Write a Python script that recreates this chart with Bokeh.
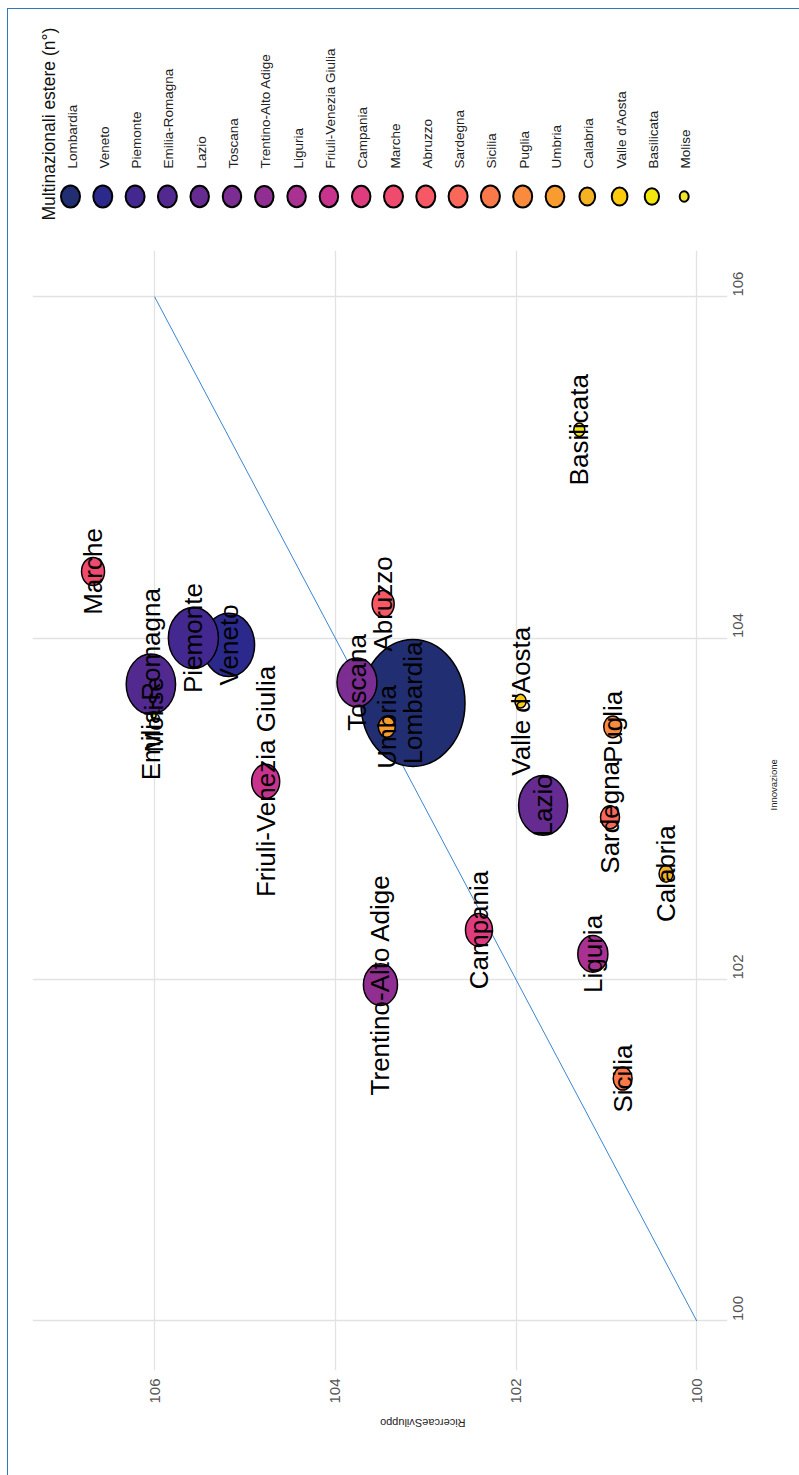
import math
from bokeh.plotting import figure
from bokeh.models import Range1d, FixedTicker, ColumnDataSource
from bokeh.layouts import column
from bokeh.core.properties import value
from bokeh.embed import file_html
from bokeh.resources import INLINE

# ---------------- data ----------------
regioni = ["Lombardia", "Veneto", "Piemonte", "Emilia-Romagna", "Lazio", "Toscana",
           "Trentino-Alto Adige", "Liguria", "Friuli-Venezia Giulia", "Campania", "Marche",
           "Abruzzo", "Sardegna", "Sicilia", "Puglia", "Umbria", "Calabria",
           "Valle d'Aosta", "Basilicata", "Molise"]
ricerca_sviluppo = [103.14, 105.18, 105.57, 106.04, 101.70, 103.76,
                    103.50, 101.15, 104.77, 102.41, 106.68,
                    103.47, 100.96, 100.82, 100.93, 103.43, 100.34,
                    101.95, 101.30, 106.01]
innovazione = [103.62, 103.96, 104.00, 103.73, 103.02, 103.74,
               101.97, 102.15, 103.16, 102.29, 104.39,
               104.20, 102.95, 101.42, 103.48, 103.48, 102.62,
               103.63, 105.22, 103.55]
multinazionali = [5000, 1140, 1050, 1020, 1005, 640,
                  450, 340, 290, 265, 185,
                  167, 120, 118, 105, 93, 61,
                  40, 38, 20]
ticks = [100, 102, 104, 106]
bisettrice = [100, 106]

# ---------------- styles ----------------
colori = ["#212f72", "#2b2a8c", "#42288f", "#51298f", "#652b90", "#7b2d91",
          "#902f91", "#a93191", "#c8338d", "#df3c80", "#ef4b6f",
          "#f65865", "#f96858", "#fa794a", "#fa8a3d", "#f89c30", "#f5b323",
          "#fccb10", "#f4e60c", "#f2e629"]
legend_key_w = [19, 19, 19, 19, 18.5, 18.5, 18.5, 18.5, 18.5, 18.5, 19,
                19, 19, 19, 19, 18.7, 15.7, 15.7, 14.3, 9]
D_MIN, D_MAX, STRETCH = 5.0, 104.0, 1.22
FONT = "Liberation Sans"

nmin, nmax = min(multinazionali), max(multinazionali)
diam = [D_MIN + (D_MAX - D_MIN) * math.sqrt((n - nmin) / (nmax - nmin)) for n in multinazionali]

W = 791
LEG_H = 241
MAIN_H = 1466 - LEG_H
BL, BR = 24, 72          # left/right borders -> frame spans x 24..719

# ---------------- legend figure ----------------
lg = figure(width=W, height=LEG_H, x_range=Range1d(BL, W - BR), y_range=Range1d(LEG_H, 0),
            toolbar_location=None, output_backend="svg",
            min_border_left=BL, min_border_right=BR, min_border_top=0, min_border_bottom=0)
lg.axis.visible = False
lg.grid.visible = False
lg.outline_line_color = None
lg.background_fill_color = "white"

lx = [62 + 32.3 * i for i in range(len(regioni))]
lsrc = ColumnDataSource(dict(x=lx, y=[187] * len(regioni), w=legend_key_w,
                             h=[w * 1.15 for w in legend_key_w], c=colori, t=regioni,
                             tx=[v + 1.5 for v in lx], ty=[159] * len(regioni)))
lg.ellipse(x="x", y="y", width="w", height="h", width_units="screen", height_units="screen",
           fill_color="c", line_color="black", line_width=2, source=lsrc)
lg.text(x="tx", y="ty", text="t", angle=math.pi / 2, text_align="left", text_baseline="middle",
        text_font=value(FONT), text_font_size="13.5px", text_color="#222222", source=lsrc)
lg.text(x=[40], y=[211], text=["Multinazionali estere (n°)"], angle=math.pi / 2,
        text_align="left", text_baseline="middle", text_font=value(FONT),
        text_font_size="17.5px", text_color="#111111")

# ---------------- main figure ----------------
p = figure(width=W, height=MAIN_H, x_range=Range1d(107.35, 99.66), y_range=Range1d(99.71, 106.27),
           toolbar_location=None, output_backend="svg", y_axis_location="right",
           min_border_left=BL, min_border_right=BR, min_border_top=0, min_border_bottom=105,
           x_axis_label="RicercaeSviluppo", y_axis_label="Innovazione")
p.outline_line_color = None
p.background_fill_color = "white"

for ax in (p.xaxis[0], p.yaxis[0]):
    ax.ticker = FixedTicker(ticks=ticks)
    ax.axis_line_color = None
    ax.major_tick_line_color = None
    ax.minor_tick_line_color = None
    ax.major_label_orientation = math.pi / 2
    ax.major_label_text_font = FONT
    ax.major_label_text_font_size = "15px"
    ax.major_label_text_color = "#555555"
    ax.axis_label_text_font = FONT
    ax.axis_label_text_font_style = "normal"
    ax.axis_label_text_color = "#222222"
p.xaxis[0].major_label_standoff = 2
p.yaxis[0].major_label_standoff = 5
p.xaxis[0].axis_label_text_font_size = "11px"
p.yaxis[0].axis_label_text_font_size = "9.5px"
p.xaxis[0].axis_label_standoff = 16
p.yaxis[0].axis_label_standoff = 22
try:
    p.xaxis[0].axis_label_orientation = math.pi
    p.yaxis[0].axis_label_orientation = math.pi / 2
except Exception:
    pass

for g in (p.xgrid[0], p.ygrid[0]):
    g.ticker = FixedTicker(ticks=ticks)
    g.grid_line_color = "#e2e2e2"
    g.grid_line_width = 1.3
    g.minor_grid_line_color = None

p.line(x=bisettrice, y=bisettrice, line_color="#3a86d1", line_width=1)

src = ColumnDataSource(dict(x=ricerca_sviluppo, y=innovazione, d=diam,
                            h=[d * STRETCH for d in diam], c=colori, t=regioni))
p.ellipse(x="x", y="y", width="d", height="h", width_units="screen", height_units="screen",
          fill_color="c", line_color="black", line_width=1.5, source=src)
p.text(x="x", y="y", text="t", angle=math.pi / 2, text_align="center", text_baseline="middle",
       text_font=value(FONT), text_font_size="26px", text_color="black", source=src)

layout = column(lg, p, spacing=0,
                styles={"border-top": "1px solid #2b7bbf", "border-left": "1px solid #2b7bbf",
                        "margin-top": "8px", "margin-left": "7px"})

open("out.html", "w").write(file_html(layout, INLINE))
